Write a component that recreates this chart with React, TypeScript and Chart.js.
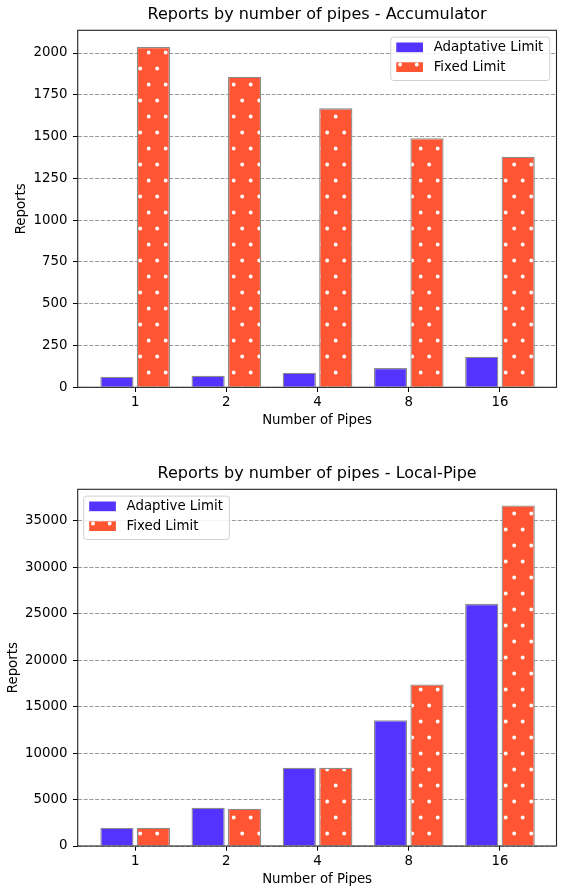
import React, { useEffect, useRef } from 'react';
import { Chart, registerables } from 'chart.js';

Chart.register(...registerables);

// ---------- data ----------
const pipeLabels = ['1', '2', '4', '8', '16'];

const accTitle = 'Reports by number of pipes - Accumulator';
const accLegend = ['Adaptative Limit', 'Fixed Limit'];
const accAdaptative = [63, 69, 87, 116, 183];
const accFixed = [2036, 1858, 1669, 1490, 1380];
const accYTicks = [0, 250, 500, 750, 1000, 1250, 1500, 1750, 2000];
const accYMax = 2136;

const localTitle = 'Reports by number of pipes - Local-Pipe';
const localLegend = ['Adaptive Limit', 'Fixed Limit'];
const localAdaptive = [1970, 4120, 8420, 13530, 26070];
const localFixed = [1970, 4010, 8420, 17390, 36660];
const localYTicks = [0, 5000, 10000, 15000, 20000, 25000, 30000, 35000];
const localYMax = 38400;

const xAxisTitle = 'Number of Pipes';
const yAxisTitle = 'Reports';

// ---------- style ----------
const BLUE = '#5533ff';
const RED = '#ff5533';
const EDGE = '#8c8c8c';
const FAMILY = "'DejaVu Sans', sans-serif";
const FS = 13.33;

Chart.defaults.font.family = FAMILY;

function makeDotPattern(): CanvasPattern | string {
  const c = document.createElement('canvas');
  c.width = 17;
  c.height = 32;
  const g = c.getContext('2d');
  if (!g) return RED;
  g.fillStyle = RED;
  g.fillRect(0, 0, 17, 32);
  g.fillStyle = '#ffffff';
  g.beginPath();
  g.arc(4.2, 4.5, 1.9, 0, Math.PI * 2);
  g.fill();
  g.beginPath();
  g.arc(12.7, 20.5, 1.9, 0, Math.PI * 2);
  g.fill();
  const p = g.createPattern(c, 'repeat');
  return p || RED;
}

const framePlugin = {
  id: 'frameBox',
  afterDatasetsDraw(chart: any) {
    const { ctx, chartArea: a } = chart;
    ctx.save();
    ctx.strokeStyle = '#222';
    ctx.lineWidth = 1.1;
    ctx.setLineDash([]);
    ctx.strokeRect(a.left, a.top, a.right - a.left, a.bottom - a.top);
    ctx.restore();
  },
};

function makeTitlePlugin(text: string, midY: number) {
  return {
    id: 'centeredTitle',
    afterDraw(chart: any) {
      const { ctx, chartArea: a } = chart;
      ctx.save();
      ctx.font = `16px ${FAMILY}`;
      ctx.fillStyle = '#000';
      ctx.textAlign = 'center';
      ctx.textBaseline = 'middle';
      ctx.fillText(text, (a.left + a.right) / 2, midY);
      ctx.restore();
    },
  };
}

function makeLegendPlugin(side: 'left' | 'right', labels: string[]) {
  return {
    id: 'insideLegend',
    afterDraw(chart: any) {
      const { ctx, chartArea: a } = chart;
      ctx.save();
      ctx.font = `${FS}px ${FAMILY}`;
      const textW = Math.max(...labels.map((l) => ctx.measureText(l).width));
      const padL = 5.5;
      const swW = 26.7;
      const swH = 9.7;
      const gap = 10.7;
      const padR = 6.5;
      const boxW = padL + swW + gap + textW + padR;
      const boxH = 43.4;
      const x = side === 'right' ? a.right - 6.67 - boxW : a.left + 6.0;
      const y = a.top + 6.8;
      const r = 3;
      ctx.beginPath();
      ctx.moveTo(x + r, y);
      ctx.lineTo(x + boxW - r, y);
      ctx.quadraticCurveTo(x + boxW, y, x + boxW, y + r);
      ctx.lineTo(x + boxW, y + boxH - r);
      ctx.quadraticCurveTo(x + boxW, y + boxH, x + boxW - r, y + boxH);
      ctx.lineTo(x + r, y + boxH);
      ctx.quadraticCurveTo(x, y + boxH, x, y + boxH - r);
      ctx.lineTo(x, y + r);
      ctx.quadraticCurveTo(x, y, x + r, y);
      ctx.closePath();
      ctx.fillStyle = 'rgba(255,255,255,0.85)';
      ctx.fill();
      ctx.strokeStyle = '#d0d0d0';
      ctx.lineWidth = 1;
      ctx.stroke();

      const rows = [5.4, 25.2];
      rows.forEach((off, i) => {
        const sx = x + padL;
        const sy = y + off;
        ctx.fillStyle = i === 0 ? BLUE : RED;
        ctx.fillRect(sx, sy, swW, swH);
        if (i === 1) {
          ctx.fillStyle = '#ffffff';
          [3.8, 20.5].forEach((dx) => {
            ctx.beginPath();
            ctx.arc(sx + dx, sy + 2.2, 1.9, 0, Math.PI * 2);
            ctx.fill();
          });
        }
        ctx.fillStyle = '#000';
        ctx.textBaseline = 'middle';
        ctx.textAlign = 'left';
        ctx.fillText(labels[i], sx + swW + gap, sy + swH / 2 + 0.3);
      });
      ctx.restore();
    },
  };
}

type Cfg = {
  title: string;
  legendLabels: string[];
  legendSide: 'left' | 'right';
  adaptive: number[];
  fixed: number[];
  yTicks: number[];
  yMax: number;
  titleMidY: number;
  plotTop: number;
  xAxisHeight: number;
  xTitlePadBottom: number;
  yTitlePadTop: number;
};

function BarChart(props: Cfg) {
  const ref = useRef<HTMLCanvasElement>(null);
  useEffect(() => {
    if (!ref.current) return;
    const pattern = makeDotPattern();
    const font = { family: FAMILY, size: FS };
    const chart = new Chart(ref.current, {
      type: 'bar',
      data: {
        datasets: [
          {
            label: props.legendLabels[0],
            data: props.adaptive.map((v, i) => ({ x: i, y: v })),
            backgroundColor: BLUE,
            borderColor: EDGE,
            borderWidth: 1.3,
            borderSkipped: 'start',
            categoryPercentage: 0.8,
            barPercentage: 0.91,
          } as any,
          {
            label: props.legendLabels[1],
            data: props.fixed.map((v, i) => ({ x: i, y: v })),
            backgroundColor: pattern,
            borderColor: EDGE,
            borderWidth: 1.3,
            borderSkipped: 'start',
            categoryPercentage: 0.8,
            barPercentage: 0.91,
          } as any,
        ],
      },
      options: {
        responsive: false,
        animation: false,
        events: [],
        layout: { padding: { left: 0, right: 4.5, top: props.plotTop, bottom: 0 } },
        plugins: {
          legend: { display: false },
          tooltip: { enabled: false },
          title: { display: false },
        },
        scales: {
          x: {
            type: 'linear',
            min: -0.63,
            max: 4.62,
            offset: false,
            bounds: 'data',
            afterBuildTicks: (s: any) => {
              s.ticks = pipeLabels.map((_, i) => ({ value: i }));
            },
            afterFit: (s: any) => {
              s.height = props.xAxisHeight;
            },
            ticks: {
              callback: (v: any) => pipeLabels[v] ?? '',
              color: '#000',
              font,
              padding: 2.7,
              maxRotation: 0,
              autoSkip: false,
            },
            grid: {
              offset: false,
              drawOnChartArea: false,
              drawTicks: true,
              tickLength: 4.7,
              tickColor: '#000',
              tickWidth: 1,
            },
            border: { display: false },
            title: {
              display: true,
              text: xAxisTitle,
              color: '#000',
              font,
              padding: { top: 0, bottom: props.xTitlePadBottom },
            },
          },
          y: {
            type: 'linear',
            min: 0,
            max: props.yMax,
            bounds: 'data',
            afterBuildTicks: (s: any) => {
              s.ticks = props.yTicks.map((v) => ({ value: v }));
            },
            afterFit: (s: any) => {
              s.width = 77.7;
            },
            ticks: {
              callback: (v: any) => String(v),
              color: '#000',
              font,
              padding: 5.5,
              autoSkip: false,
            },
            grid: {
              color: '#9a9a9a',
              lineWidth: 1,
              drawTicks: true,
              tickLength: 4.7,
              tickColor: '#000',
              tickWidth: 1,
              tickBorderDash: [],
            } as any,
            border: { display: false, dash: [4, 1.7] },
            title: {
              display: true,
              text: yAxisTitle,
              color: '#000',
              font,
              padding: { top: props.yTitlePadTop, bottom: 0 },
            },
          },
        },
      } as any,
      plugins: [
        framePlugin,
        makeTitlePlugin(props.title, props.titleMidY),
        makeLegendPlugin(props.legendSide, props.legendLabels),
      ],
    });
    return () => chart.destroy();
  }, []);
  return (
    <canvas
      ref={ref}
      width={561}
      height={445}
      style={{ display: 'block', width: 561, height: 445 }}
    />
  );
}

export default function App() {
  return (
    <div style={{ position: 'absolute', left: 0, top: 0, width: 561, height: 890, background: '#fff' }}>
      <BarChart
        title={accTitle}
        legendLabels={accLegend}
        legendSide="right"
        adaptive={accAdaptative}
        fixed={accFixed}
        yTicks={accYTicks}
        yMax={accYMax}
        titleMidY={14.8}
        plotTop={30.3}
        xAxisHeight={57.7}
        xTitlePadBottom={16.2}
        yTitlePadTop={13.7}
      />
      <BarChart
        title={localTitle}
        legendLabels={localLegend}
        legendSide="left"
        adaptive={localAdaptive}
        fixed={localFixed}
        yTicks={localYTicks}
        yMax={localYMax}
        titleMidY={28.8}
        plotTop={44.3}
        xAxisHeight={44}
        xTitlePadBottom={2.5}
        yTitlePadTop={5.1}
      />
    </div>
  );
}
